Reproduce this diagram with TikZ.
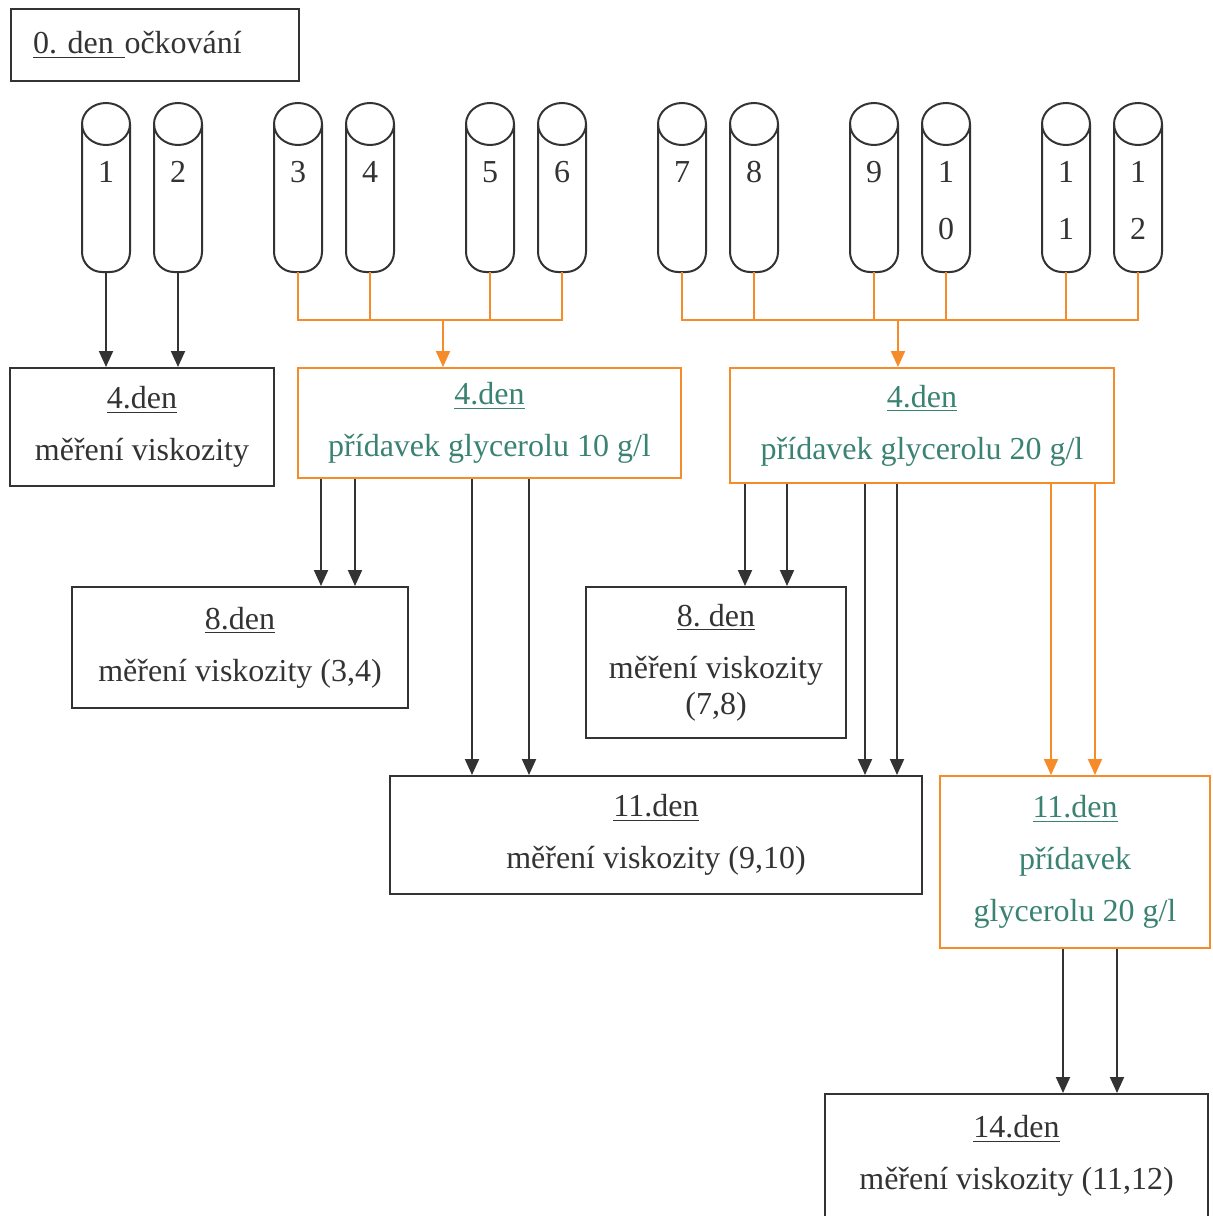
\documentclass[tikz,border=0pt]{standalone}
\usepackage{fontspec}
\setmainfont{Liberation Serif}
\usetikzlibrary{positioning,arrows.meta}
\definecolor{ink}{HTML}{333333}
\definecolor{oranz}{HTML}{F68B2A}
\definecolor{zelena}{HTML}{3A8272}
\frenchspacing

\begin{document}
\begin{tikzpicture}[x=0.5pt,y=-0.5pt,
  every node/.style={font=\fontsize{16}{26}\selectfont, text=ink},
  box/.style={draw=ink, line width=1pt, align=center, inner sep=0pt},
  obox/.style={box, draw=oranz, text=zelena},
  sipka/.style={draw=ink, line width=1pt, -{Triangle[width=7pt,length=8pt]}},
  osipka/.style={sipka, draw=oranz},
  cislo/.style={anchor=base, align=center, font=\fontsize{16}{28.5}\selectfont}]
  \useasboundingbox (0,0) rectangle (1212,1216);
  % zkumavky
  \foreach \i/\x/\lab/\y in {1/106/1/182,2/178/2/182,3/298/3/182,4/370/4/182,
      5/490/5/182,6/562/6/182,7/682/7/182,8/754/8/182,9/874/9/182,
      10/946/{1\\0}/239,11/1066/{1\\1}/239,12/1138/{1\\2}/239} {
    \draw[ink, line width=1pt, rounded corners=10pt]
      (\x-24,124) -- (\x-24,272) -- (\x+24,272) -- (\x+24,124);
    \draw[ink, line width=1pt] (\x,124) ellipse [x radius=24, y radius=21];
    \node[cislo] (n\i) at (\x,\y) {\lab};
    \coordinate (t\i) at (\x,272);
  }
  \node[box, anchor=north west, minimum width=144pt, minimum height=36pt,
    text width=122pt, align=left] (d0) at (10,8) {\underline{0. den }očkování};
  \node[box, minimum width=132pt, minimum height=59pt] (d4a) at (142,427)
    {\underline{4.den}\\měření viskozity};
  \node[obox, minimum width=191.5pt, minimum height=55pt] (d4b) at (489.5,423)
    {\underline{4.den}\\přídavek glycerolu 10 g/l};
  \node[obox, minimum width=192pt, minimum height=57.5pt] (d4c) at (922,425.5)
    {\underline{4.den}\\přídavek glycerolu 20 g/l};
  \node[box, minimum width=168pt, minimum height=60.5pt] (d8a) at (240,647.5)
    {\underline{8.den}\\měření viskozity (3,4)};
  \node[box, minimum width=130pt, minimum height=75.5pt] (d8b) at (716,662.5)
    {\underline{8. den}\\měření viskozity\\[-8pt](7,8)};
  \node[box, minimum width=266pt, minimum height=59pt] (d11a) at (656,835)
    {\underline{11.den}\\měření viskozity (9,10)};
  \node[obox, minimum width=135pt, minimum height=86pt] (d11b) at (1075,862)
    {\underline{11.den}\\přídavek\\glycerolu 20 g/l};
  \node[box, minimum width=191.5pt, minimum height=62pt] (d14) at (1016.5,1156)
    {\underline{14.den}\\měření viskozity (11,12)};
  % spojky
  \coordinate (s1) at (443,320);
  \coordinate (s2) at (898,320);
  \draw[sipka] (t1) -- (t1 |- d4a.north);
  \draw[sipka] (t2) -- (t2 |- d4a.north);
  \draw[oranz, line width=1pt] (t3) |- (s1) (t6) |- (s1) (t4) -- (t4 |- s1) (t5) -- (t5 |- s1);
  \draw[oranz, line width=1pt] (t7) |- (s2) (t12) |- (s2);
  \foreach \i in {8,9,10,11} \draw[oranz, line width=1pt] (t\i) -- (t\i |- s2);
  \draw[osipka] (s1) -- (s1 |- d4b.north);
  \draw[osipka] (s2) -- (s2 |- d4c.north);
  \foreach \dx in {12pt,29pt}
    \draw[sipka] ([xshift=\dx]d4b.south west) -- ([xshift=\dx]d4b.south west |- d8a.north);
  \foreach \dx in {87.5pt,116pt}
    \draw[sipka] ([xshift=\dx]d4b.south west) -- ([xshift=\dx]d4b.south west |- d11a.north);
  \foreach \dx in {8pt,29pt}
    \draw[sipka] ([xshift=\dx]d4c.south west) -- ([xshift=\dx]d4c.south west |- d8b.north);
  \foreach \dx in {68pt,84pt}
    \draw[sipka] ([xshift=\dx]d4c.south west) -- ([xshift=\dx]d4c.south west |- d11a.north);
  \foreach \dx in {161pt,183pt}
    \draw[osipka] ([xshift=\dx]d4c.south west) -- ([xshift=\dx]d4c.south west |- d11b.north);
  \foreach \dx in {62pt,89pt}
    \draw[sipka] ([xshift=\dx]d11b.south west) -- ([xshift=\dx]d11b.south west |- d14.north);
\end{tikzpicture}
\end{document}
